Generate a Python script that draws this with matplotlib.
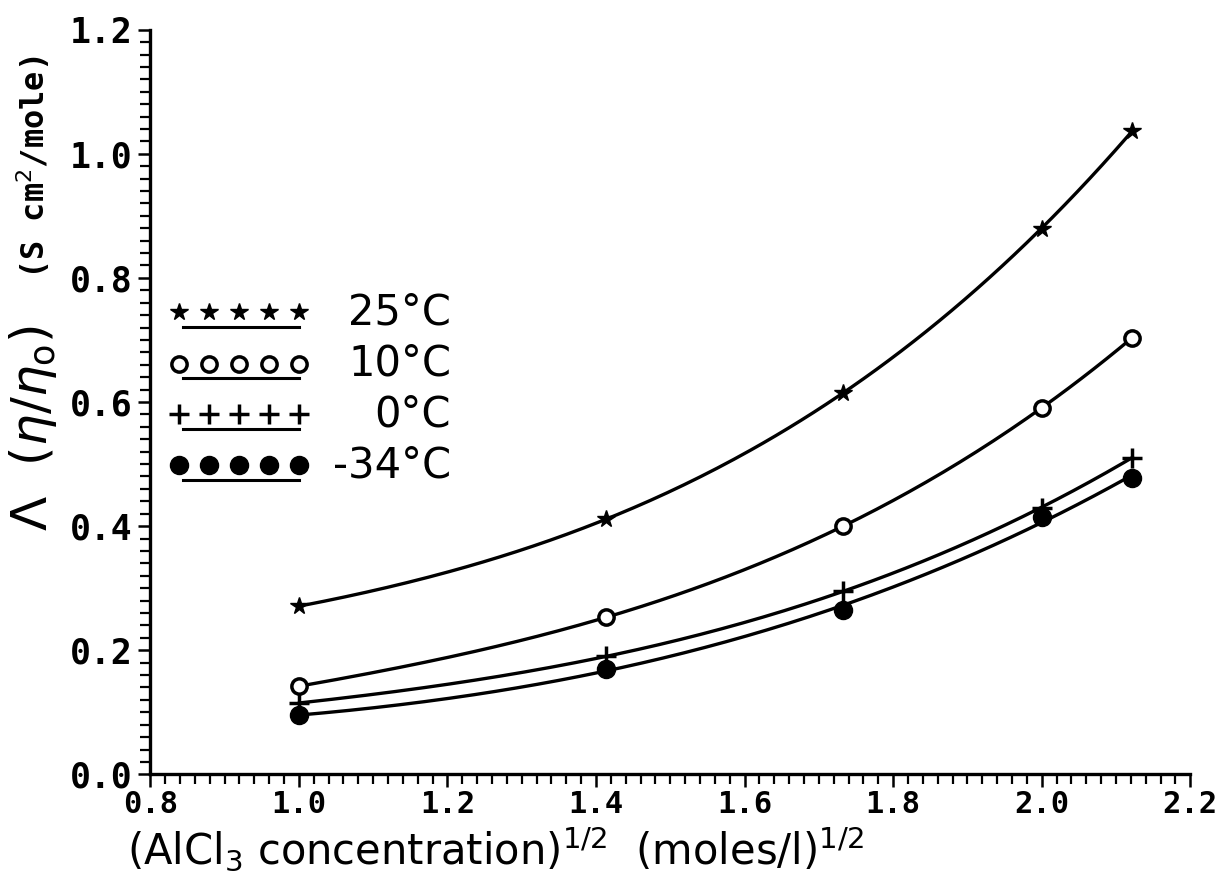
import numpy as np
import matplotlib
matplotlib.use("Agg")
import matplotlib.pyplot as plt
from matplotlib.ticker import MultipleLocator, FormatStrFormatter

# sqrt of AlCl3 concentration (moles/l)^1/2
conc = [1.0, 1.414, 1.732, 2.0, 2.121]

t25 = [0.271, 0.411, 0.615, 0.879, 1.036]
t10 = [0.142, 0.253, 0.400, 0.590, 0.703]
t0 = [0.115, 0.190, 0.295, 0.430, 0.510]
tm34 = [0.095, 0.170, 0.265, 0.415, 0.477]

labels = ["25°C", "10°C", "0°C", "-34°C"]

series = [t25, t10, t0, tm34]
styles = [
    dict(marker="*", ms=13, mfc="black", mec="black", mew=1),
    dict(marker="o", ms=11, mfc="white", mec="black", mew=2.5),
    dict(marker="+", ms=15, mfc="black", mec="black", mew=2.5),
    dict(marker="o", ms=13, mfc="black", mec="black", mew=1),
]

fig = plt.figure(figsize=(12.22, 8.73), dpi=100)
ax = fig.add_axes([0.123, 0.113, 0.851, 0.853])

x = np.array(conc)
xs = np.linspace(x.min(), x.max(), 200)
for ys, st in zip(series, styles):
    coef = np.polyfit(x, ys, 3)
    ax.plot(xs, np.polyval(coef, xs), color="black", lw=2.4, solid_capstyle="round")
    ax.plot(x, ys, ls="none", color="black", **st)

# hand-drawn style legend: row of markers with a line underneath
row_y = [0.745, 0.662, 0.580, 0.498]
leg_x = np.linspace(0.838, 1.0, 5)
for yy, st, lab in zip(row_y, styles, labels):
    ax.plot(leg_x, [yy] * 5, ls="none", color="black", clip_on=False, **st)
    ax.plot([leg_x[0] + 0.006, leg_x[-1]], [yy - 0.024] * 2, color="black", lw=2.2)
    ax.text(1.205, yy, lab, ha="right", va="center", fontsize=30,
            family="DejaVu Sans")

ax.set_xlim(0.8, 2.2)
ax.set_ylim(0.0, 1.2)
ax.xaxis.set_major_locator(MultipleLocator(0.2))
ax.xaxis.set_minor_locator(MultipleLocator(0.02))
ax.yaxis.set_major_locator(MultipleLocator(0.2))
ax.yaxis.set_minor_locator(MultipleLocator(0.02))
ax.xaxis.set_major_formatter(FormatStrFormatter("%.1f"))
ax.yaxis.set_major_formatter(FormatStrFormatter("%.1f"))

for side in ["top", "right"]:
    ax.spines[side].set_visible(False)
for side in ["left", "bottom"]:
    ax.spines[side].set_linewidth(2.4)

ax.tick_params(which="major", direction="out", length=9, width=1.8, pad=4)
ax.tick_params(which="minor", direction="out", length=7, width=1.6)
ax.tick_params(axis="x", which="major", pad=2)
for lbl in ax.get_yticklabels():
    lbl.set_family("DejaVu Sans Mono")
    lbl.set_fontweight("bold")
    lbl.set_fontsize(25)
for lbl in ax.get_xticklabels():
    lbl.set_family("DejaVu Sans Mono")
    lbl.set_fontweight("bold")
    lbl.set_fontsize(22)

fig.text(0.104, 0.028, r"(AlCl$_3$ concentration)$^{1/2}$  (moles/l)$^{1/2}$",
         ha="left", va="center", fontsize=30, family="DejaVu Sans")
fig.text(0.027, 0.51, r"$\Lambda$  $(\eta/\eta_{\mathrm{o}})$", rotation=90,
         ha="center", va="center", fontsize=36)
fig.text(0.027, 0.808, r"(S cm$^2$/mole)", rotation=90, ha="center", va="center",
         fontsize=23, family="DejaVu Sans Mono", fontweight="bold")

fig.savefig("out.png", dpi=100)
